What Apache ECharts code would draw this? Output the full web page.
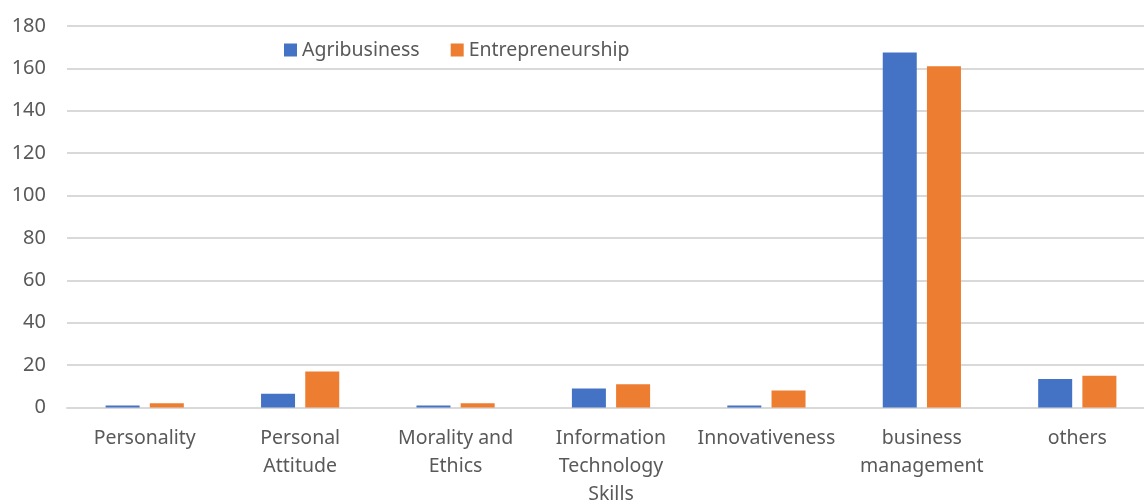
<!DOCTYPE html>
<html>
<head>
<meta charset="utf-8">
<script src="https://cdn.jsdelivr.net/npm/echarts@6/dist/echarts.min.js"></script>
<style>
  html, body { margin: 0; padding: 0; background: #fff; }
  #chart { width: 1144px; height: 501px; }
</style>
</head>
<body>
<div id="chart"></div>
<script>
const categories = [
  'Personality',
  'Personal\nAttitude',
  'Morality and\nEthics',
  'Information\nTechnology\nSkills',
  'Innovativeness',
  'business\nmanagement',
  'others'
]
const agribusiness = [1, 6.5, 1, 9, 1, 167.5, 13.5]
const entrepreneurship = [2, 17, 2, 11, 8, 161, 15]

const chart = echarts.init(document.getElementById('chart'))

const textColor = '#595959'
const fontFamily = 'Noto Sans'

chart.setOption({
  animation: false,
  textStyle: { fontFamily: fontFamily },
  legend: {
    left: 279,
    top: 35,
    itemWidth: 13,
    itemHeight: 13,
    itemGap: 31,
    icon: 'rect',
    textStyle: { color: textColor, fontSize: 19.5, fontFamily: fontFamily }
  },
  grid: {
    left: 67,
    right: -11,
    top: 26,
    bottom: 93.5,
    outerBoundsMode: 'none'
  },
  xAxis: {
    type: 'category',
    data: categories,
    axisLine: { show: true, lineStyle: { color: '#d9d9d9', width: 2 } },
    axisTick: { show: false },
    axisLabel: {
      interval: 0,
      color: textColor,
      fontSize: 19.5,
      lineHeight: 28,
      margin: 17,
      fontFamily: fontFamily
    }
  },
  yAxis: {
    type: 'value',
    min: 0,
    max: 180,
    interval: 20,
    axisLine: { show: false },
    axisTick: { show: false },
    splitLine: { lineStyle: { color: '#d9d9d9', width: 2 } },
    axisLabel: { color: textColor, fontSize: 20, margin: 21, fontFamily: fontFamily }
  },
  series: [
    {
      name: 'Agribusiness',
      type: 'bar',
      data: agribusiness,
      barWidth: 34,
      barGap: '30%',
      itemStyle: { color: '#4472c4' }
    },
    {
      name: 'Entrepreneurship',
      type: 'bar',
      data: entrepreneurship,
      barWidth: 34,
      itemStyle: { color: '#ed7d31' }
    }
  ]
})
</script>
</body>
</html>
